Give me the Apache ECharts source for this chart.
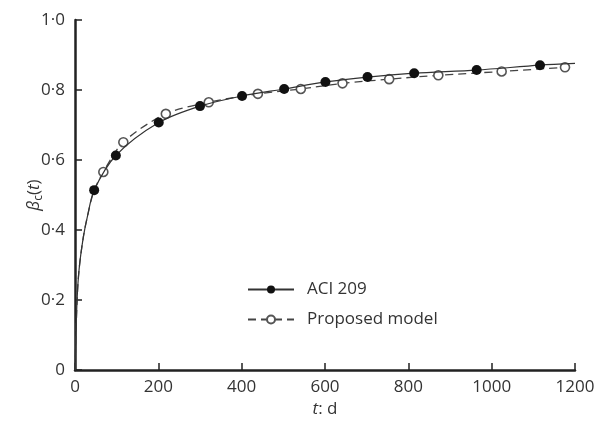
<!DOCTYPE html>
<html lang="en">
<head>
    <meta charset="UTF-8">
    <script src="https://cdn.jsdelivr.net/npm/echarts@6/dist/echarts.min.js"></script>
    <style>
        html, body { margin: 0; padding: 0; background: #fff; }
        #chart { width: 601px; height: 423px; }
    </style>
</head>
<body>
<div id="chart"></div>
<script>
    // axis ticks
    var xTicks = [0, 200, 400, 600, 800, 1000, 1200];
    var yTicks = [0, 0.2, 0.4, 0.6, 0.8, 1.0];

    // ACI 209: early part of the curve (no markers) and marked points
    var aciLineT = [0, 5, 10, 20, 30];
    var aciLineV = [0, 0.2, 0.29, 0.38, 0.44];
    var aciMarkT = [46, 98, 201, 300, 401, 502, 601, 702, 814, 964, 1116];
    var aciMarkV = [0.514, 0.613, 0.707, 0.754, 0.783, 0.803, 0.823, 0.837, 0.848, 0.857, 0.871];
    var aciEndT = [1200];
    var aciEndV = [0.876];

    // Proposed model
    var propLineT = [0, 5, 10, 20, 30, 45];
    var propLineV = [0, 0.2, 0.29, 0.38, 0.44, 0.51];
    var propMarkT = [68, 116, 218, 321, 439, 542, 642, 754, 872, 1024, 1176];
    var propMarkV = [0.566, 0.651, 0.732, 0.765, 0.789, 0.803, 0.819, 0.831, 0.842, 0.853, 0.865];
    var propEndT = [1200];
    var propEndV = [0.867];

    function build(lt, lv, mt, mv, et, ev) {
        var out = [];
        lt.forEach(function (t, i) { out.push({value: [t, lv[i]], symbol: 'none'}); });
        mt.forEach(function (t, i) { out.push({value: [t, mv[i]]}); });
        et.forEach(function (t, i) { out.push({value: [t, ev[i]], symbol: 'none'}); });
        return out;
    }

    function fmt(v) {
        if (v === 0) return '0';
        return v.toFixed(1).replace('.', '·');
    }

    var txt = '#333';
    var font = 'Open Sans';
    var chart = echarts.init(document.getElementById('chart'));
    chart.setOption({
        animation: false,
        grid: {left: 75, top: 20, right: 26, bottom: 48, containLabel: false},
        legend: {
            orient: 'vertical',
            left: 242,
            top: 276,
            itemWidth: 46,
            itemHeight: 10,
            itemGap: 13,
            textStyle: {fontFamily: font, fontSize: 17, color: txt, padding: [0, 0, 0, 8]},
            data: ['ACI 209', 'Proposed model']
        },
        xAxis: {
            type: 'value',
            min: 0, max: 1200, interval: 200,
            name: '{i|t}{n|: d}',
            nameLocation: 'middle',
            nameGap: 30,
            nameTextStyle: {
                rich: {
                    i: {fontFamily: font, fontSize: 17, fontStyle: 'italic', color: txt},
                    n: {fontFamily: font, fontSize: 17, color: txt}
                }
            },
            axisLine: {lineStyle: {color: '#222', width: 2.5}},
            axisTick: {inside: true, length: 7, lineStyle: {color: '#222', width: 1.5}},
            axisLabel: {
                fontFamily: font, fontSize: 17, color: txt, margin: 9,
                formatter: function (v) { return xTicks.indexOf(v) >= 0 ? String(v) : ''; }
            },
            splitLine: {show: false}
        },
        yAxis: {
            type: 'value',
            min: 0, max: 1, interval: 0.2,
            name: '{i|β}{s|c}{n|(}{i|t}{n|)}',
            nameLocation: 'middle',
            nameRotate: 90,
            nameGap: 30,
            nameMoveOverlap: false,
            nameTextStyle: {
                rich: {
                    i: {fontFamily: font, fontSize: 17, fontStyle: 'italic', color: txt, lineHeight: 22},
                    s: {fontFamily: font, fontSize: 12, color: txt, verticalAlign: 'bottom', lineHeight: 22, padding: [6, 0, 0, 0]},
                    n: {fontFamily: font, fontSize: 17, color: txt, lineHeight: 22}
                }
            },
            axisLine: {show: true, lineStyle: {color: '#222', width: 2.5}},
            axisTick: {show: true, inside: true, length: 7, lineStyle: {color: '#222', width: 1.5}},
            axisLabel: {
                fontFamily: font, fontSize: 17, color: txt, margin: 10,
                formatter: function (v) {
                    for (var i = 0; i < yTicks.length; i++) {
                        if (Math.abs(yTicks[i] - v) < 1e-6) return fmt(yTicks[i]);
                    }
                    return '';
                }
            },
            splitLine: {show: false}
        },
        series: [
            {
                name: 'Proposed model',
                type: 'line',
                smooth: 0.3,
                data: build(propLineT, propLineV, propMarkT, propMarkV, propEndT, propEndV),
                symbol: 'circle',
                symbolSize: 9,
                showAllSymbol: true,
                lineStyle: {color: '#444', width: 1.3, type: [8, 5]},
                itemStyle: {color: '#fff', borderColor: '#555', borderWidth: 1.6},
                z: 2
            },
            {
                name: 'ACI 209',
                type: 'line',
                smooth: 0.3,
                data: build(aciLineT, aciLineV, aciMarkT, aciMarkV, aciEndT, aciEndV),
                symbol: 'circle',
                symbolSize: 10,
                showAllSymbol: true,
                lineStyle: {color: '#333', width: 1.2},
                itemStyle: {color: '#111', borderColor: '#111', borderWidth: 0},
                z: 3
            }
        ]
    });
</script>
</body>
</html>
